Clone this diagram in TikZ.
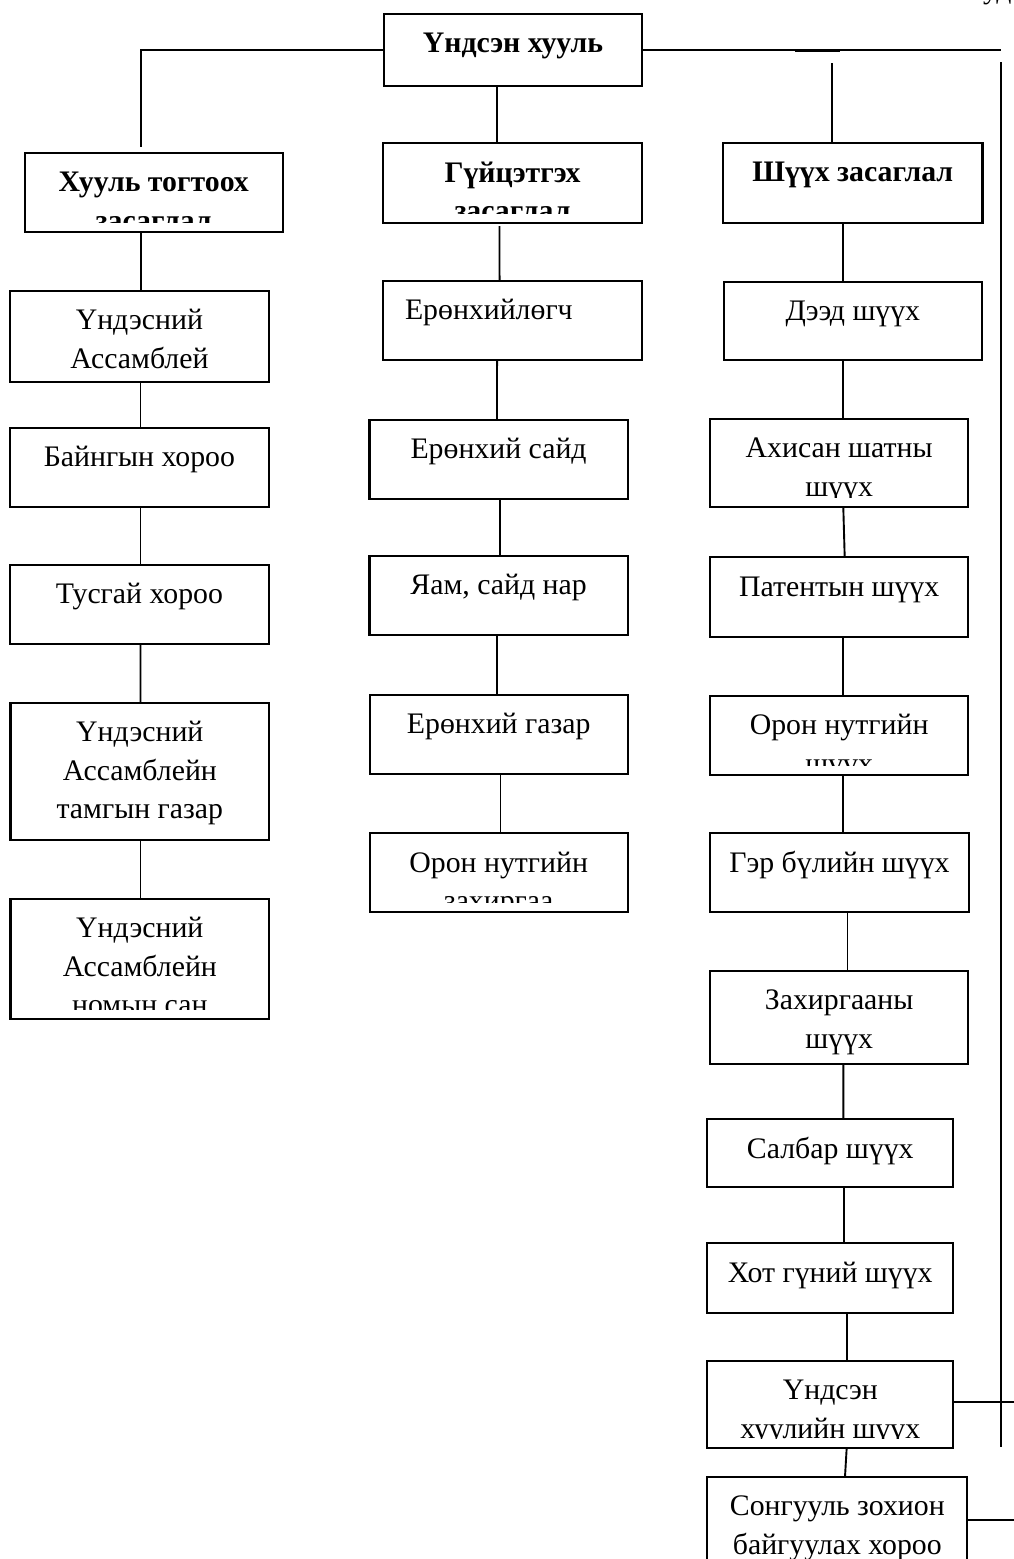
\documentclass[tikz,border=0pt]{standalone}
\usepackage{fontspec}
\setmainfont{Liberation Serif}
\usetikzlibrary{calc,fit}
\tikzset{
  boxst/.style={draw, line width=2.2pt, inner sep=0pt, outer sep=0pt},
  conn/.style={line width=1.9pt},
  txt/.style={inner sep=0pt, outer sep=0pt, anchor=base},
}
\newcommand\fnt{\fontsize{29.8}{38.5}\selectfont}
% box with clipped, centred text: name, x1, y1, x2, y2, text
\newcommand\bxx[6]{%
  \coordinate (#1-nw) at (#2,#3);
  \coordinate (#1-se) at (#4,#5);
  \node[boxst, fit=(#1-nw)(#1-se)] (#1) {};
  \begin{scope}
    \clip (#2,#3) rectangle (#4,{#5-9.5});
    \node[txt] (#1-t) at ({(#2+#4)/2},{#3+38.8}) {\parbox[t]{400pt}{\centering\fnt #6}};
  \end{scope}}
% connector between two boxes with horizontal offsets
\newcommand\cn[4]{\draw[conn] ($(#1.south)+(#3,0)$) -- ($(#2.north)+(#4,0)$);}
\begin{document}
\begin{tikzpicture}[x=1pt,y=-1pt]
\useasboundingbox[fill=white] (0,0) rectangle (1014,1559);

% fragment of text at the top right corner
\node[anchor=base west, inner sep=0pt] (frag) at (983,-2) {\fnt уд};

% top level
\bxx{top}{384}{14}{642}{86}{\bfseries Үндсэн хууль}
\bxx{xz}{24.6}{152.7}{282.8}{231.7}{\bfseries Хууль тогтоох\\засаглал}
\bxx{gy}{383}{143.3}{642}{222.7}{\bfseries Гүйцэтгэх\\засаглал}
\bxx{shz}{723}{143}{982.5}{222.7}{\bfseries Шүүх засаглал}

% left column
\bxx{la}{10.2}{290.7}{268.6}{381.7}{Үндэсний\\Ассамблей}
\bxx{bh}{10.2}{427.7}{268.6}{506.7}{Байнгын хороо}
\bxx{tx}{10.2}{565}{268.6}{644}{Тусгай хороо}
\bxx{tg}{10.4}{702.7}{269.3}{840}{Үндэсний\\Ассамблейн\\тамгын газар}
\bxx{ns}{10.4}{899}{269.3}{1019}{Үндэсний\\Ассамблейн\\номын сан}

% middle column
\coordinate (er-nw) at (383,281);
\coordinate (er-se) at (641.7,360);
\node[boxst, fit=(er-nw)(er-se)] (er) {};
\node[txt, anchor=base west] (er-t) at (405,319.8) {\fnt Ерөнхийлөгч};
\bxx{es}{369.4}{420}{627.8}{499}{Ерөнхий сайд}
\bxx{ya}{369.4}{555.7}{627.8}{635}{Яам, сайд нар}
\bxx{eg}{369.6}{695}{627.8}{774.3}{Ерөнхий газар}
\bxx{on}{369.6}{833.3}{627.8}{912.3}{Орон нутгийн\\захиргаа}

% right column
\bxx{dd}{724}{281.7}{981.7}{360}{Дээд шүүх}
\bxx{ah}{710}{419}{968.3}{507.3}{Ахисан шатны\\шүүх}
\bxx{pt}{710}{557.3}{968.3}{636.7}{Патентын шүүх}
\bxx{os}{710}{695.7}{968.3}{775}{Орон нутгийн\\шүүх}
\bxx{gb}{710}{833.3}{969}{912.3}{Гэр бүлийн шүүх}
\bxx{zh}{710}{970.7}{968.3}{1064}{Захиргааны\\шүүх}
\bxx{sb}{707.3}{1119.3}{953.3}{1187.3}{Салбар шүүх}
\bxx{ht}{707.3}{1243.3}{953.3}{1312.7}{Хот гүний шүүх}
\bxx{uh}{707.3}{1360.7}{953.3}{1447.7}{Үндсэн\\хуулийн шүүх}
\bxx{sz}{707.3}{1476.7}{967.3}{1620}{Сонгууль зохион\\байгуулах хороо}

% connectors from the top box
\coordinate (lend) at (141,146.7);
\draw[conn] (top.west) -| (lend);
\coordinate (rend) at (1001,50.7);
\draw[conn] (top.east) -- (top.east -| rend);
\coordinate (ts1) at (795,50.3);
\coordinate (ts2) at (840,50.3);
\draw[line width=2.6pt] (ts1) -- (ts2);
\coordinate (rv1) at (1001,62);
\coordinate (rv2) at (1001,1446.7);
\draw[conn] (rv1) -- (rv2);
\coordinate (stub) at (832,63);
\draw[conn] (stub) -- (stub |- shz.north);
\cn{top}{gy}{-16}{-15.5}

% left column connectors
\cn{xz}{la}{-12.7}{1.6}
\cn{la}{bh}{1.1}{1.1}
\cn{bh}{tx}{1.1}{1.1}
\cn{tx}{tg}{1.1}{0.65}
\cn{tg}{ns}{0.65}{0.65}

% middle column connectors
\draw[conn] ($(gy.south)+(-13,3.5)$) -- ($(er.north)+(-12.8,0)$);
\cn{er}{es}{-15.3}{-1.6}
\cn{es}{ya}{1.4}{1.4}
\cn{ya}{eg}{-1.6}{-1.7}
\cn{eg}{on}{1.8}{1.8}

% right column connectors
\cn{shz}{dd}{-9.35}{-9.45}
\cn{dd}{ah}{-9.55}{4.15}
\cn{ah}{pt}{4.15}{5.55}
\cn{pt}{os}{3.85}{3.85}
\cn{os}{gb}{4.25}{3.9}
\cn{gb}{zh}{8}{8.35}
\cn{zh}{sb}{4.15}{13}
\cn{sb}{ht}{13.7}{13.7}
\cn{ht}{uh}{16.4}{16.4}
\cn{uh}{sz}{16.4}{7.7}

% lines to the right edge
\draw[conn] ($(uh.north east)+(0,41.6)$) -- ++(70,0);
\draw[conn] ($(sz.north east)+(0,43.3)$) -- ++(70,0);
\end{tikzpicture}
\end{document}
